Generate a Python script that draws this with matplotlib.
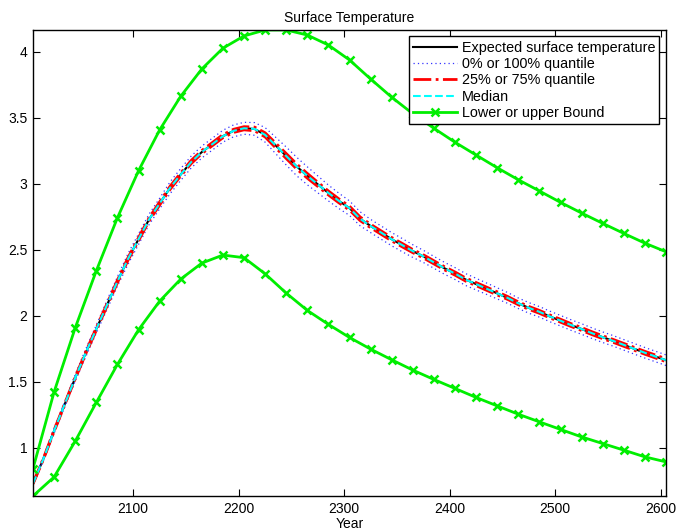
import numpy as np
import matplotlib
matplotlib.use("Agg")
import matplotlib.pyplot as plt
from matplotlib.ticker import FuncFormatter

plt.rcParams['font.family'] = ['Liberation Sans', 'DejaVu Sans']

# yearly curves read every 10 years, bounds every 20 years
years = np.arange(2005, 2606, 10)
bound_years = np.arange(2005, 2606, 20)

expected = [0.73, 0.92, 1.13, 1.33, 1.53, 1.72, 1.90, 2.08, 2.26, 2.43,
            2.58, 2.73, 2.85, 2.97, 3.07, 3.165, 3.24, 3.30, 3.36, 3.40,
            3.42, 3.415, 3.37, 3.29, 3.21, 3.13, 3.06, 2.995, 2.93, 2.87,
            2.815, 2.735, 2.68, 2.63, 2.58, 2.535, 2.49, 2.45, 2.405, 2.36,
            2.32, 2.275, 2.24, 2.205, 2.17, 2.135, 2.095, 2.06, 2.03, 1.995,
            1.963, 1.93, 1.90, 1.868, 1.838, 1.81, 1.78, 1.75, 1.72, 1.692,
            1.664]

# half width of the 0%-100% band and of the 25%-75% band
outer_spread = [0.01, 0.015, 0.02, 0.02, 0.025, 0.03, 0.03, 0.035, 0.035, 0.04,
                0.04, 0.04, 0.04, 0.045, 0.045, 0.045, 0.045, 0.045, 0.045, 0.045,
                0.045, 0.048, 0.055, 0.062, 0.068, 0.07, 0.068, 0.064, 0.06, 0.058,
                0.055, 0.053, 0.05, 0.05, 0.05, 0.05, 0.048, 0.046, 0.045, 0.045,
                0.045, 0.045, 0.044, 0.043, 0.042, 0.041, 0.04, 0.04, 0.04, 0.04,
                0.04, 0.04, 0.04, 0.04, 0.04, 0.04, 0.04, 0.04, 0.04, 0.04,
                0.04]
inner_spread = [0.003, 0.005, 0.006, 0.006, 0.008, 0.008, 0.01, 0.01, 0.01, 0.01,
                0.012, 0.012, 0.012, 0.012, 0.012, 0.012, 0.012, 0.012, 0.012, 0.012,
                0.012, 0.014, 0.016, 0.018, 0.019, 0.019, 0.018, 0.016, 0.015, 0.015,
                0.015, 0.014, 0.013, 0.013, 0.013, 0.013, 0.012, 0.012, 0.012, 0.012,
                0.012, 0.012, 0.012, 0.012, 0.012, 0.011, 0.011, 0.011, 0.011, 0.011,
                0.011, 0.011, 0.011, 0.011, 0.011, 0.011, 0.011, 0.011, 0.011, 0.011,
                0.011]

upper_bound = [0.844, 1.424, 1.909, 2.341, 2.742, 3.098, 3.407, 3.662, 3.869, 4.026,
               4.119, 4.164, 4.164, 4.126, 4.05, 3.937, 3.793, 3.655, 3.53, 3.42,
               3.314, 3.217, 3.121, 3.03, 2.945, 2.859, 2.778, 2.70, 2.624, 2.55,
               2.485]
lower_bound = [0.636, 0.78, 1.051, 1.344, 1.632, 1.894, 2.111, 2.278, 2.399, 2.46,
               2.44, 2.318, 2.172, 2.041, 1.935, 1.836, 1.748, 1.667, 1.589, 1.518,
               1.45, 1.382, 1.318, 1.255, 1.197, 1.14, 1.083, 1.033, 0.983, 0.932,
               0.894]

exp_arr = np.array(expected)
q0 = exp_arr - np.array(outer_spread)
q100 = exp_arr + np.array(outer_spread)
q25 = exp_arr - np.array(inner_spread)
q75 = exp_arr + np.array(inner_spread)
median = exp_arr

fig = plt.figure(figsize=(6.78, 5.30), dpi=100)
ax = fig.add_axes([0.0487, 0.0642, 0.9336, 0.8792])

dots = (0, (1, 2.5))
ax.plot(years, expected, color='black', lw=1.5, label='Expected surface temperature')
ax.plot(years, q0, color='#3333ff', ls=dots, lw=0.9, label='0% or 100% quantile')
ax.plot(years, q100, color='#3333ff', ls=dots, lw=0.9)
ax.plot(years, q25, color='red', ls='-.', lw=2.0, label='25% or 75% quantile')
ax.plot(years, q75, color='red', ls='-.', lw=2.0)
ax.plot(years, median, color='cyan', ls='--', lw=1.5, label='Median')
ax.plot(bound_years, lower_bound, color='#00ee00', lw=2.0, marker='x',
        ms=6, mew=1.8, label='Lower or upper Bound')
ax.plot(bound_years, upper_bound, color='#00ee00', lw=2.0, marker='x',
        ms=6, mew=1.8)

ax.set_xlim(bound_years[0], bound_years[-1])
ax.set_ylim(min(lower_bound), max(upper_bound))
ax.set_xticks([2100, 2200, 2300, 2400, 2500, 2600])
ax.set_yticks([1, 1.5, 2, 2.5, 3, 3.5, 4])
ax.yaxis.set_major_formatter(FuncFormatter(lambda v, p: '%g' % v))
ax.tick_params(direction='in', top=True, right=True, length=5, width=0.8,
               labelsize=10, pad=4)
for s in ax.spines.values():
    s.set_linewidth(1.0)

ax.set_title('Surface Temperature', fontsize=10, pad=6)
ax.set_xlabel('Year', fontsize=10, labelpad=1)

leg = ax.legend(loc='upper right', fontsize=10.4, frameon=True, fancybox=False,
                framealpha=1, edgecolor='black', handlelength=3.0,
                handletextpad=0.35, labelspacing=0.16, borderpad=0.3,
                borderaxespad=0.45)
leg.get_frame().set_linewidth(1.0)

fig.savefig('out.png', dpi=100)
